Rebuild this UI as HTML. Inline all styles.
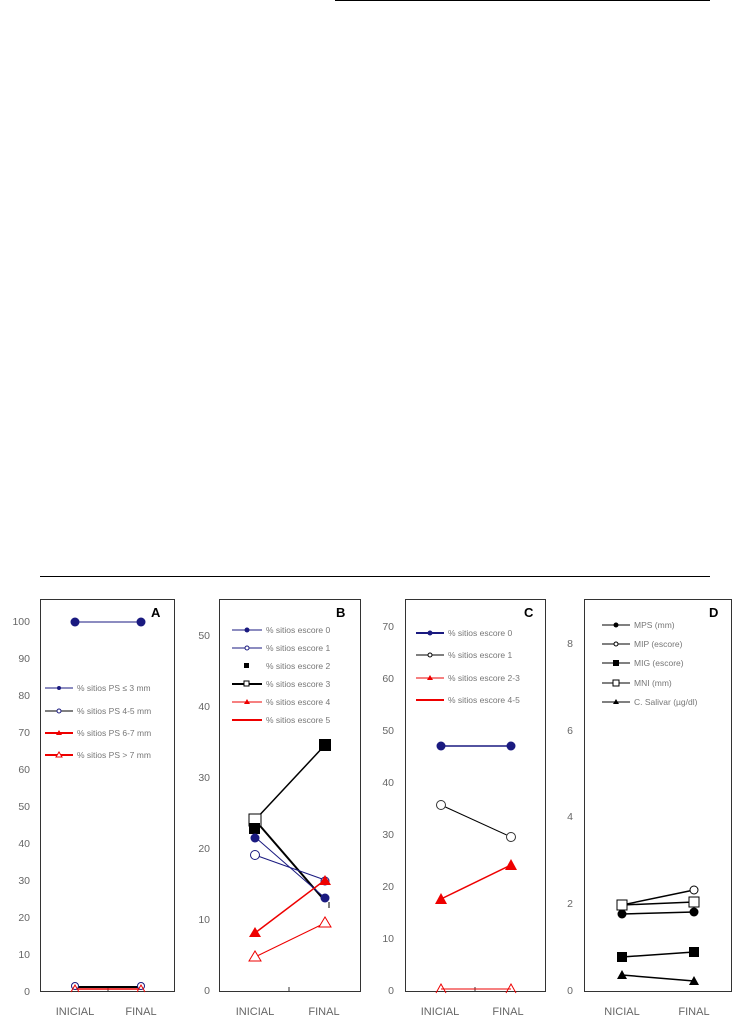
<html><head><style>body{margin:0;background:#fff}svg{display:block}text{font-family:"Liberation Sans",sans-serif}</style></head><body>
<svg width="744" height="1023" xmlns="http://www.w3.org/2000/svg">
<line x1="335" y1="0.5" x2="710" y2="0.5" stroke="#000"/>
<line x1="40" y1="576.5" x2="710" y2="576.5" stroke="#000"/>
<g fill="none" stroke="#333" stroke-width="1">
<rect x="40.5" y="599.5" width="134" height="392"/>
<rect x="219.5" y="599.5" width="141" height="392"/>
<rect x="405.5" y="599.5" width="140" height="392"/>
<rect x="584.5" y="599.5" width="147" height="392"/>
</g>
<g font-size="10.5" fill="#666" text-anchor="end">
<text x="30" y="625">100</text><text x="30" y="662">90</text><text x="30" y="699">80</text><text x="30" y="736">70</text><text x="30" y="773">60</text><text x="30" y="810">50</text><text x="30" y="847">40</text><text x="30" y="884">30</text><text x="30" y="921">20</text><text x="30" y="958">10</text><text x="30" y="995">0</text>
<text x="210" y="639">50</text><text x="210" y="710">40</text><text x="210" y="781">30</text><text x="210" y="852">20</text><text x="210" y="923">10</text><text x="210" y="994">0</text>
<text x="394" y="630">70</text><text x="394" y="682">60</text><text x="394" y="734">50</text><text x="394" y="786">40</text><text x="394" y="838">30</text><text x="394" y="890">20</text><text x="394" y="942">10</text><text x="394" y="994">0</text>
<text x="573" y="647">8</text><text x="573" y="734">6</text><text x="573" y="820">4</text><text x="573" y="907">2</text><text x="573" y="994">0</text>
</g>
<g font-size="11" fill="#666" text-anchor="middle">
<text x="75" y="1015">INICIAL</text><text x="141" y="1015">FINAL</text>
<text x="255" y="1015">INICIAL</text><text x="324" y="1015">FINAL</text>
<text x="440" y="1015">INICIAL</text><text x="508" y="1015">FINAL</text>
<text x="622" y="1015">NICIAL</text><text x="694" y="1015">FINAL</text>
</g>
<g font-size="13" font-weight="bold" fill="#000">
<text x="151" y="617">A</text><text x="336" y="617">B</text><text x="524" y="617">C</text><text x="709" y="617">D</text>
</g>
<g stroke="#333"><line x1="108" y1="987" x2="108" y2="991"/><line x1="289" y1="987" x2="289" y2="991"/><line x1="475" y1="987" x2="475" y2="991"/></g>
<!-- A -->
<line x1="75" y1="622" x2="141" y2="622" stroke="#1a1a80"/>
<circle cx="75" cy="622" r="4.5" fill="#1a1a80"/><circle cx="141" cy="622" r="4.5" fill="#1a1a80"/>
<line x1="75" y1="987" x2="141" y2="987" stroke="#000" stroke-width="2"/>
<line x1="75" y1="989" x2="141" y2="989" stroke="#e00" stroke-width="1.5"/>
<circle cx="75" cy="986" r="3.5" fill="#fff" stroke="#1a1a80"/><circle cx="141" cy="986" r="3.5" fill="#fff" stroke="#1a1a80"/>
<path d="M71 992 L75 985 L79 992" fill="none" stroke="#e00"/><path d="M137 992 L141 985 L145 992" fill="none" stroke="#e00"/>
<g font-size="8.5" fill="#777">
<line x1="45" y1="688" x2="73" y2="688" stroke="#1a1a80"/><circle cx="59" cy="688" r="2" fill="#1a1a80"/><text x="77" y="691">% sitios PS ≤ 3 mm</text>
<line x1="45" y1="711" x2="73" y2="711" stroke="#000"/><circle cx="59" cy="711" r="2" fill="#fff" stroke="#1a1a80"/><text x="77" y="714">% sitios PS 4-5 mm</text>
<line x1="45" y1="733" x2="73" y2="733" stroke="#e00" stroke-width="2"/><path d="M56 735 L59 730 L62 735Z" fill="#e00"/><text x="77" y="736">% sitios PS 6-7 mm</text>
<line x1="45" y1="755" x2="73" y2="755" stroke="#e00" stroke-width="2"/><path d="M56 757 L59 752 L62 757Z" fill="#fff" stroke="#e00"/><text x="77" y="758">% sitios PS &gt; 7 mm</text>
</g>
<!-- B -->
<line x1="255" y1="820" x2="325" y2="745" stroke="#000" stroke-width="1.5"/>
<line x1="255" y1="820" x2="325" y2="901" stroke="#000" stroke-width="2"/>
<line x1="255" y1="837" x2="325" y2="898" stroke="#1a1a80"/>
<line x1="255" y1="855" x2="325" y2="880" stroke="#1a1a80"/>
<line x1="255" y1="933" x2="325" y2="880" stroke="#e00" stroke-width="1.5"/>
<line x1="255" y1="957" x2="325" y2="923" stroke="#e00"/>
<rect x="249" y="814" width="12" height="12" fill="#fff" stroke="#000"/>
<rect x="249" y="823" width="11" height="11" fill="#000"/>
<circle cx="255" cy="838" r="4.5" fill="#1a1a80"/>
<circle cx="255" cy="855" r="4.5" fill="#fff" stroke="#1a1a80"/>
<rect x="319" y="739" width="12" height="12" fill="#000"/>
<circle cx="325" cy="881" r="4" fill="#fff" stroke="#1a1a80"/>
<circle cx="325" cy="898" r="4.5" fill="#1a1a80"/>
<line x1="329" y1="902" x2="329" y2="908" stroke="#000"/>
<path d="M249 937 L255 927 L261 937Z" fill="#e00"/>
<path d="M319 885 L325 875 L331 885Z" fill="#e00"/>
<path d="M249 961 L255 951 L261 961Z" fill="#fff" stroke="#e00"/>
<path d="M319 927 L325 917 L331 927Z" fill="#fff" stroke="#e00"/>
<g font-size="8.5" fill="#777">
<line x1="232" y1="630" x2="262" y2="630" stroke="#1a1a80"/><circle cx="247" cy="630" r="2.5" fill="#1a1a80"/><text x="266" y="633">% sitios escore 0</text>
<line x1="232" y1="648" x2="262" y2="648" stroke="#1a1a80"/><circle cx="247" cy="648" r="2" fill="#fff" stroke="#1a1a80"/><text x="266" y="651">% sitios escore 1</text>
<rect x="244" y="663" width="5" height="5" fill="#000"/><text x="266" y="669">% sitios escore 2</text>
<line x1="232" y1="684" x2="262" y2="684" stroke="#000" stroke-width="2"/><rect x="244" y="681" width="5" height="5" fill="#fff" stroke="#000"/><text x="266" y="687">% sitios escore 3</text>
<line x1="232" y1="702" x2="262" y2="702" stroke="#e00"/><path d="M244 704 L247 699 L250 704Z" fill="#e00"/><text x="266" y="705">% sitios escore 4</text>
<line x1="232" y1="720" x2="262" y2="720" stroke="#e00" stroke-width="2"/><text x="266" y="723">% sitios escore 5</text>
</g>
<!-- C -->
<line x1="441" y1="746" x2="511" y2="746" stroke="#1a1a80" stroke-width="1.5"/>
<circle cx="441" cy="746" r="4.5" fill="#1a1a80"/><circle cx="511" cy="746" r="4.5" fill="#1a1a80"/>
<line x1="441" y1="805" x2="511" y2="837" stroke="#000"/>
<circle cx="441" cy="805" r="4.5" fill="#fff" stroke="#333"/><circle cx="511" cy="837" r="4.5" fill="#fff" stroke="#333"/>
<line x1="441" y1="899" x2="511" y2="865" stroke="#e00" stroke-width="1.5"/>
<path d="M435 904 L441 893 L447 904Z" fill="#e00"/><path d="M505 870 L511 859 L517 870Z" fill="#e00"/>
<line x1="441" y1="989" x2="511" y2="989" stroke="#e00"/>
<path d="M436 993 L441 984 L446 993" fill="none" stroke="#e00"/><path d="M506 993 L511 984 L516 993" fill="none" stroke="#e00"/>
<g font-size="8.5" fill="#777">
<line x1="416" y1="633" x2="444" y2="633" stroke="#1a1a80" stroke-width="2"/><circle cx="430" cy="633" r="2.5" fill="#1a1a80"/><text x="448" y="636">% sitios escore 0</text>
<line x1="416" y1="655" x2="444" y2="655" stroke="#000"/><circle cx="430" cy="655" r="2" fill="#fff" stroke="#000"/><text x="448" y="658">% sitios escore 1</text>
<line x1="416" y1="678" x2="444" y2="678" stroke="#e00"/><path d="M427 680 L430 675 L433 680Z" fill="#e00"/><text x="448" y="681">% sitios escore 2-3</text>
<line x1="416" y1="700" x2="444" y2="700" stroke="#e00" stroke-width="2"/><text x="448" y="703">% sitios escore 4-5</text>
</g>
<!-- D -->
<g stroke="#000" stroke-width="1.5">
<line x1="622" y1="905" x2="694" y2="890"/><line x1="622" y1="905" x2="694" y2="902"/>
<line x1="622" y1="914" x2="694" y2="912"/><line x1="622" y1="957" x2="694" y2="952"/>
<line x1="622" y1="975" x2="694" y2="981"/></g>
<rect x="617" y="900" width="10" height="10" fill="#fff" stroke="#000"/>
<circle cx="622" cy="914" r="4.5" fill="#000"/>
<circle cx="694" cy="890" r="4" fill="#fff" stroke="#000"/>
<rect x="689" y="897" width="10" height="10" fill="#fff" stroke="#000"/>
<circle cx="694" cy="912" r="4.5" fill="#000"/>
<rect x="617" y="952" width="10" height="10" fill="#000"/><rect x="689" y="947" width="10" height="10" fill="#000"/>
<path d="M617 979 L622 970 L627 979Z" fill="#000"/><path d="M689 985 L694 976 L699 985Z" fill="#000"/>
<g font-size="8.5" fill="#777">
<line x1="602" y1="625" x2="630" y2="625" stroke="#000"/><circle cx="616" cy="625" r="2.5" fill="#000"/><text x="634" y="628">MPS (mm)</text>
<line x1="602" y1="644" x2="630" y2="644" stroke="#000"/><circle cx="616" cy="644" r="2" fill="#fff" stroke="#000"/><text x="634" y="647">MIP (escore)</text>
<line x1="602" y1="663" x2="630" y2="663" stroke="#000"/><rect x="613" y="660" width="6" height="6" fill="#000"/><text x="634" y="666">MIG (escore)</text>
<line x1="602" y1="683" x2="630" y2="683" stroke="#000"/><rect x="613" y="680" width="6" height="6" fill="#fff" stroke="#000"/><text x="634" y="686">MNI (mm)</text>
<line x1="602" y1="702" x2="630" y2="702" stroke="#000"/><path d="M613 704 L616 699 L619 704Z" fill="#000"/><text x="634" y="705">C. Salivar (µg/dl)</text>
</g>
</svg></body></html>
